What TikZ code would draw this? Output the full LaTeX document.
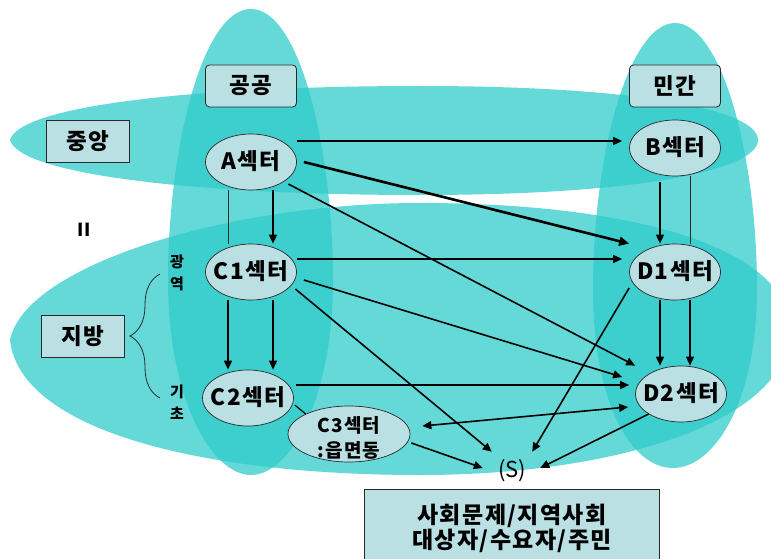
\documentclass[tikz,border=0pt]{standalone}
\usepackage{fontspec}
\setmainfont{Noto Sans CJK KR}
\newfontfamily\krsp{Noto Sans CJK KR}[LetterSpace=6]
\usetikzlibrary{arrows.meta,calc,shapes.geometric,decorations.pathreplacing}
\definecolor{bigfill}{RGB}{47,203,203}
\definecolor{boxfill}{RGB}{186,224,228}
\definecolor{edge}{RGB}{40,40,40}
\newcommand{\fixw}[2][7pt]{\smash{\raisebox{-#1}{\makebox[0pt]{\begin{tabular}{@{}c@{}}#2\end{tabular}}}}}
\begin{document}
\begin{tikzpicture}[x=1pt,y=-1pt,
  region/.style={fill=bigfill,fill opacity=0.74,draw=none},
  lbl/.style={font=\krsp\fontsize{22.5}{26}\selectfont\bfseries},
  sector/.style={ellipse,draw=edge,line width=0.7pt,fill=boxfill,minimum width=91,minimum height=56,inner sep=0pt,lbl},
  headbox/.style={rectangle,rounded corners=4pt,draw=edge,line width=0.8pt,fill=boxfill,minimum width=91,minimum height=42,inner sep=0pt,lbl},
  sidebox/.style={rectangle,draw=edge,line width=0.8pt,fill=boxfill,minimum width=83,minimum height=42,inner sep=0pt,lbl},
  arr/.style={line width=1.6pt,-{Triangle[length=9pt,width=8pt]}},
  thickarr/.style={line width=2.6pt,-{Triangle[length=10pt,width=9pt]}},
  dblarr/.style={line width=1.6pt,{Triangle[length=9pt,width=8pt]}-{Triangle[length=9pt,width=8pt]}},
  plain/.style={line width=0.8pt,draw=edge},
  vchar/.style={font=\fontsize{15}{16}\selectfont\bfseries,inner sep=0pt}
]
\useasboundingbox (0,0) rectangle (771,559);
\clip (0,0) rectangle (771,559);
% big regions
\fill[region] (10,140) .. controls (20,105) and (200,86) .. (420,86)
  .. controls (640,86) and (758,110) .. (758,140)
  .. controls (758,170) and (640,195) .. (420,195)
  .. controls (200,195) and (20,175) .. (10,140) -- cycle;
\fill[region] (10,340) .. controls (25,265) and (230,203) .. (420,203)
  .. controls (640,203) and (790,250) .. (790,330)
  .. controls (790,420) and (620,475) .. (420,475)
  .. controls (200,475) and (20,430) .. (10,340) -- cycle;
\fill[region] (251,9) .. controls (300,9) and (333,150) .. (333,280)
  .. controls (333,400) and (290,475) .. (251,475)
  .. controls (212,475) and (168,400) .. (168,280)
  .. controls (168,150) and (202,9) .. (251,9) -- cycle;
\fill[region] (675,23) .. controls (720,23) and (757,150) .. (757,290)
  .. controls (757,400) and (715,468) .. (673,468)
  .. controls (630,468) and (593,400) .. (593,290)
  .. controls (593,150) and (630,23) .. (675,23) -- cycle;
% boxes
\node[headbox] (pub) at (251,86) {공공};
\node[headbox] (pri) at (675,86) {민간};
\node[sidebox] (cen) at (88,141) {중앙};
\node[sidebox] (loc) at (83,336) {지방};
\node[font=\fontsize{18}{20}\selectfont\bfseries,inner sep=0pt] (eq) at (84,230) {II};
% sectors
\node[sector] (A) at (251,162) {\fixw{A섹터}};
\node[sector] (B) at (675,148) {\fixw{B섹터}};
\node[sector] (C1) at (251,272) {\fixw{C1섹터}};
\node[sector] (D1) at (675,272) {\fixw{D1섹터}};
\node[sector] (C2) at (248,398) {\fixw{C2섹터}};
\node[sector] (D2) at (681,394) {\fixw{D2섹터}};
\node[sector,minimum width=122,font=\krsp\fontsize{19}{25}\selectfont\bfseries] (C3) at (349,434) {\fixw[10pt]{C3섹터\\:읍면동}};
\node[font=\fontsize{22}{24}\selectfont,minimum width=58,minimum height=38,inner sep=0pt] (S) at (512,471) {(S)};
\node[rectangle,draw=edge,line width=0.8pt,fill=boxfill,minimum width=295,minimum height=78,inner sep=0pt,align=center,font=\krsp\fontsize{23}{25}\selectfont\bfseries] (T) at (512,528) {사회문제/지역사회\\대상자/수요자/주민};
% vertical labels
\node[vchar] (g1) at (177,262) {광};
\node[vchar] (g2) at (177,284) {역};
\node[vchar] (k1) at (177,392) {기};
\node[vchar] (k2) at (177,413) {초};
\coordinate (brB) at (160,398);
\coordinate (brT) at (160,274);
\draw[edge,line width=0.8pt,decorate,decoration={brace,amplitude=30pt}] (brB) -- (brT);
% connectors
\draw[arr] ($(A.east)+(0,-21)$) -- ($(B.west)+(-7,-7)$);
\draw[thickarr] ($(A.east)+(7,0)$) -- (D1.west |- D1.north);
\draw[arr] ($(A.south east)+(5,2)$) -- (D2.west |- D2.north);
\draw[plain] ($(A.south)+(-23,0)$) -- ($(C1.north)+(-23,0)$);
\draw[arr] ($(A.south)+(22,0)$) -- ($(C1.north)+(22,0)$);
\draw[arr] ($(B.south)+(-15,6)$) -- ($(D1.north)+(-15,0)$);
\draw[plain] ($(B.south)+(15,0)$) -- ($(D1.north)+(15,0)$);
\draw[arr] ($(C1.east)+(0,-13)$) -- ($(D1.west)+(-7,-13)$);
\draw[arr] ($(C1.east)+(7,8)$) -- ($(D2.west)+(-13,-17)$);
\draw[arr] ($(C1.south east)+(12,-3)$) -- ($(S.north west)+(9,0)$);
\draw[arr] ($(C1.south)+(-23,0)$) -- ($(C2.north)+(-20,0)$);
\draw[arr] ($(C1.south)+(22,0)$) -- ($(C2.north)+(25,0)$);
\draw[arr] ($(D1.south)+(-15,0)$) -- ($(D2.north)+(-21,0)$);
\draw[arr] ($(D1.south)+(15,0)$) -- ($(D2.north)+(9,0)$);
\draw[arr] ($(C2.east)+(2,-13)$) -- ($(D2.west)+(-6,-9)$);
\draw[plain,line width=1.2pt,draw=black] ($(C2.east)+(1,7)$) -- (C3.north west);
\draw[dblarr] ($(C3.east)+(12,-8)$) -- ($(D2.west)+(-7,13)$);
\draw[arr] ($(C3.east)+(1,9)$) -- ($(S.west)+(0,-3)$);
\draw[arr] ($(D1.west)+(0,16)$) -- ($(S.north east)+(-9,0)$);
\draw[arr] (D2.south west) -- ($(S.east)+(-1,-3)$);
\end{tikzpicture}
\end{document}
